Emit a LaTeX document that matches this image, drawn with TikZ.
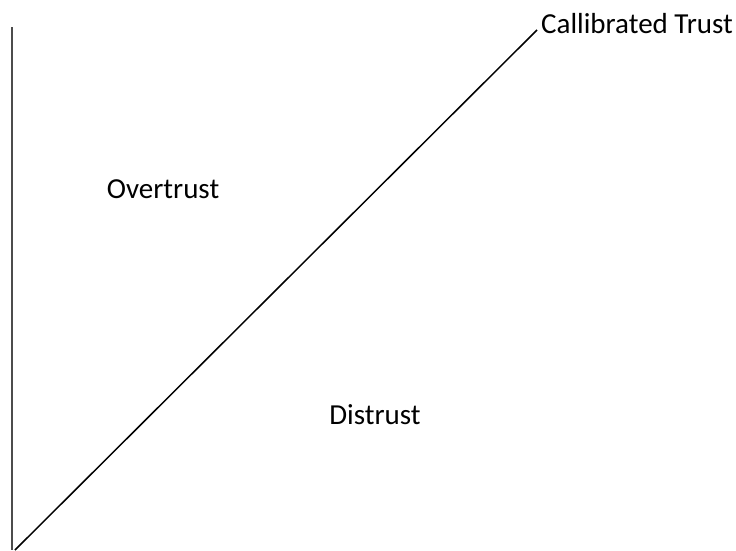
\documentclass[tikz,border=0pt]{standalone}
\usepackage{fontspec}
\setmainfont{Carlito}
\begin{document}
\begin{tikzpicture}[x=1pt,y=-1pt,
  lbl/.style={inner sep=0pt,font=\fontsize{29}{31}\selectfont},
  axis/.style={line width=2pt,draw=black!70},
  diag/.style={line width=1.5pt,draw=black}]
\useasboundingbox (0,0) rectangle (736,550);
\coordinate (top) at (12,27);
\coordinate (bot) at (12,550);
\coordinate (o) at (15,550);
\coordinate (c) at (537,30);
\draw[axis] (top) -- (bot);
\draw[diag] (o) -- (c);
\node[lbl,anchor=base west] (ct) at (541,33) {Callibrated Trust};
\node[lbl] (ot) at (163,189) {Overtrust};
\node[lbl] (dt) at (375,415) {Distrust};
\end{tikzpicture}
\end{document}
